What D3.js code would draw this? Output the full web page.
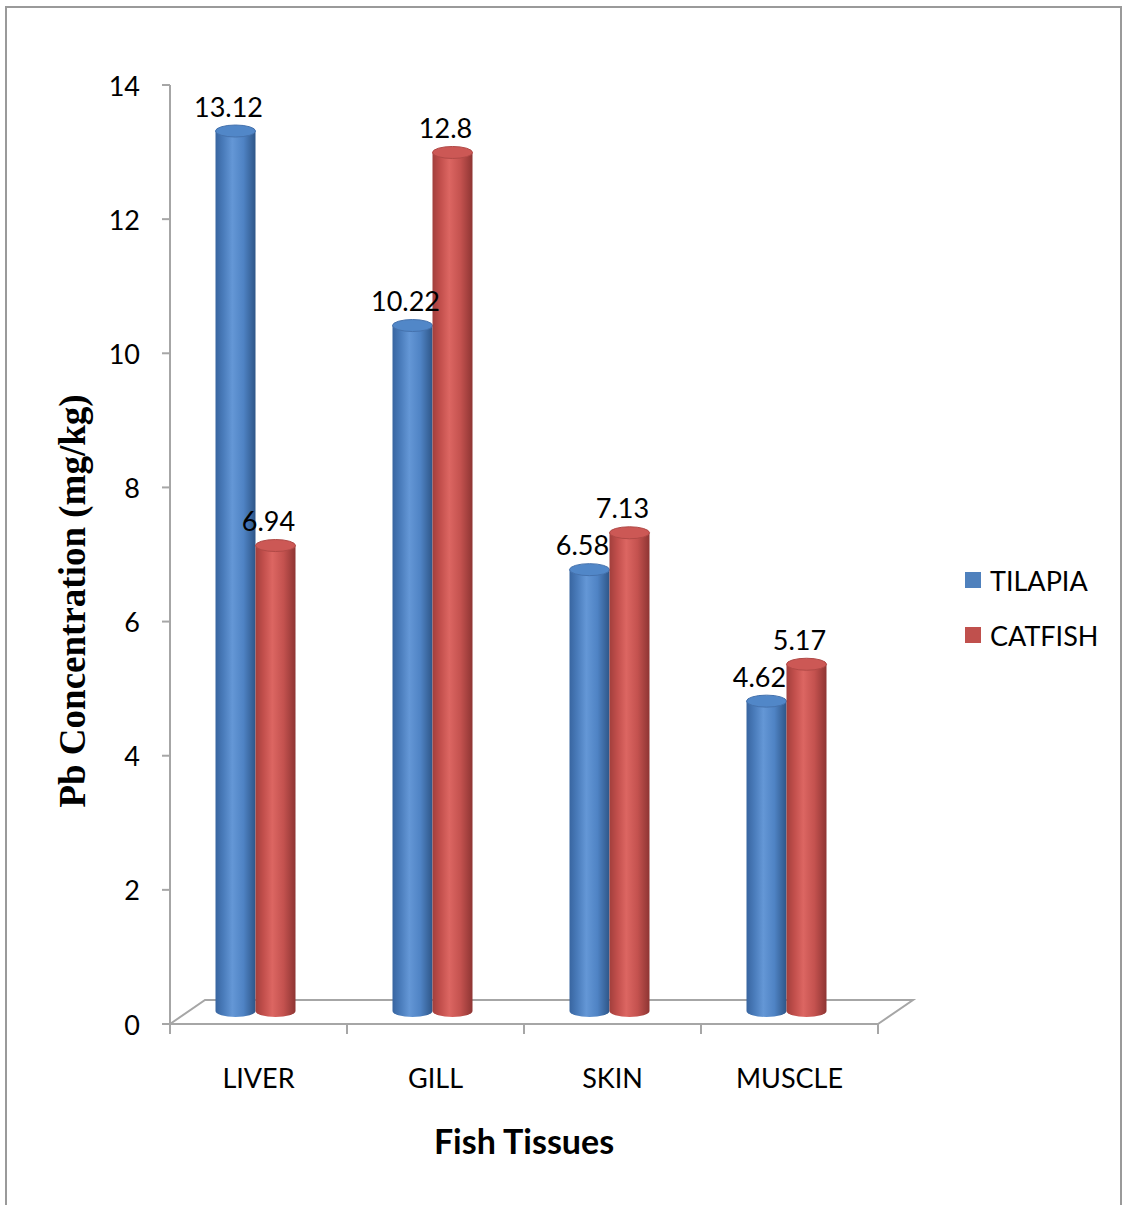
<!DOCTYPE html>
<html>
<head>
<meta charset="utf-8">
<script src="https://cdn.jsdelivr.net/npm/d3@7/dist/d3.min.js"></script>
<style>
  html, body { margin: 0; padding: 0; background: #fff; }
  svg { display: block; }
</style>
</head>
<body>
<svg id="chart" width="1122" height="1205"></svg>
<script>
// Pb concentration in fish tissues (mg/kg)
const categories = ["LIVER", "GILL", "SKIN", "MUSCLE"];
const seriesNames = ["TILAPIA", "CATFISH"];
const tilapia = [13.12, 10.22, 6.58, 4.62];
const catfish = [6.94, 12.8, 7.13, 5.17];
const yTicks = [0, 2, 4, 6, 8, 10, 12, 14];
const colors = ["#4F81BD", "#C0504D"];

const svg = d3.select("#chart");
const font = "Lato, 'Open Sans', sans-serif";
const fs = 27;

// outer frame (left, top, right)
svg.append("path")
  .attr("d", "M6,1205 L6,7 L1121,7 L1121,1205")
  .attr("fill", "none").attr("stroke", "#9a9a9a").attr("stroke-width", 2);

// scales
const x = d3.scaleBand().domain(categories).range([170, 878]);
const y = d3.scaleLinear().domain([0, 14]).range([1024, 85]);
const depth = { dx: 35, dy: -24 };
const barShift = 13;   // bars stand mid-way on the floor
const barW = 40;
const ry = 6;

// floor (3D base plane)
const x0 = 170, x1 = 878, yf = y(0);
svg.append("path")
  .attr("d", `M${x0},${yf} L${x0 + depth.dx},${yf + depth.dy} L${x1 + depth.dx},${yf + depth.dy} L${x1},${yf}`)
  .attr("fill", "none").attr("stroke", "#a6a6a6").attr("stroke-width", 2);

// category axis
svg.append("line").attr("x1", x0).attr("x2", x1).attr("y1", yf).attr("y2", yf)
  .attr("stroke", "#a6a6a6").attr("stroke-width", 2);
const catTicks = categories.map(c => x(c)).concat([x1]);
svg.selectAll(".xtick").data(catTicks).join("line")
  .attr("x1", d => d).attr("x2", d => d)
  .attr("y1", yf).attr("y2", yf + 10)
  .attr("stroke", "#a6a6a6").attr("stroke-width", 2);

// value axis
svg.append("line").attr("x1", x0).attr("x2", x0).attr("y1", y(14)).attr("y2", yf)
  .attr("stroke", "#a6a6a6").attr("stroke-width", 2);
svg.selectAll(".ytick").data(yTicks).join("line")
  .attr("x1", x0 - 8).attr("x2", x0)
  .attr("y1", d => y(d)).attr("y2", d => y(d))
  .attr("stroke", "#a6a6a6").attr("stroke-width", 2);
svg.selectAll(".ylab").data(yTicks).join("text")
  .attr("x", 140).attr("y", d => y(d))
  .attr("text-anchor", "end").attr("dominant-baseline", "central")
  .attr("font-family", font).attr("font-size", fs).attr("fill", "#000")
  .text(d => d);

// category labels
svg.selectAll(".xlab").data(categories).join("text")
  .attr("x", d => x(d) + x.bandwidth() / 2).attr("y", 1077)
  .attr("text-anchor", "middle").attr("dominant-baseline", "central")
  .attr("font-family", font).attr("font-size", fs).attr("fill", "#000")
  .text(d => d);

// cylinder gradients
const defs = svg.append("defs");
const shades = [
  { id: "g0", stops: ["#3865a0", "#4a7cbb", "#6497d6", "#4f83c4", "#2e5688"] },
  { id: "g1", stops: ["#a23f3c", "#c24f4c", "#dc6662", "#c4524f", "#8e3533"] }
];
shades.forEach(s => {
  const g = defs.append("linearGradient").attr("id", s.id).attr("x1", "0").attr("x2", "1").attr("y1", "0").attr("y2", "0");
  [0, 0.2, 0.42, 0.7, 1].forEach((o, i) => g.append("stop").attr("offset", o).attr("stop-color", s.stops[i]));
});
const topFill = ["#5187c8", "#cc5855"];
const topEdge = ["#4572ad", "#b04946"];

const data = [];
categories.forEach((c, i) => {
  [tilapia[i], catfish[i]].forEach((v, s) => data.push({ c, s, v }));
});

const barX = d => x(d.c) + x.bandwidth() / 2 - 3 - barW + d.s * barW;
const yBase = y(0) - barShift;
const yTop = d => y(d.v) - barShift;

const bars = svg.selectAll(".bar").data(data).join("g").attr("class", "bar");
bars.append("path")
  .attr("d", d => {
    const l = barX(d), r = l + barW, t = yTop(d), b = yBase;
    return `M${l},${t} L${l},${b} A${barW / 2},${ry} 0 0 0 ${r},${b} L${r},${t} Z`;
  })
  .attr("fill", d => `url(#g${d.s})`);
bars.append("ellipse")
  .attr("cx", d => barX(d) + barW / 2).attr("cy", d => yTop(d))
  .attr("rx", barW / 2).attr("ry", ry)
  .attr("fill", d => topFill[d.s]).attr("stroke", d => topEdge[d.s]).attr("stroke-width", 1);

// value labels
svg.selectAll(".vlab").data(data).join("text")
  .attr("x", d => barX(d) + barW / 2 - 7).attr("y", d => yTop(d) - 25)
  .attr("text-anchor", "middle").attr("dominant-baseline", "central")
  .attr("font-family", font).attr("font-size", fs).attr("fill", "#000")
  .text(d => d.v);

// axis titles
svg.append("text")
  .attr("x", 524).attr("y", 1140)
  .attr("text-anchor", "middle").attr("dominant-baseline", "central")
  .attr("font-family", font).attr("font-size", 34).attr("font-weight", "bold")
  .text("Fish Tissues");
svg.append("text")
  .attr("transform", "translate(72,601) rotate(-90)")
  .attr("text-anchor", "middle").attr("dominant-baseline", "central")
  .attr("font-family", "'Liberation Serif', 'DejaVu Serif', serif")
  .attr("font-size", 37).attr("font-weight", "bold")
  .text("Pb Concentration (mg/kg)");

// legend
const legend = svg.selectAll(".leg").data(seriesNames).join("g")
  .attr("transform", (d, i) => `translate(965,${580 + i * 55})`);
legend.append("rect").attr("x", 0).attr("y", -8).attr("width", 16).attr("height", 16)
  .attr("fill", (d, i) => colors[i]);
legend.append("text").attr("x", 25).attr("y", 0)
  .attr("dominant-baseline", "central")
  .attr("font-family", font).attr("font-size", fs).attr("fill", "#000")
  .text(d => d);
</script>
</body>
</html>
